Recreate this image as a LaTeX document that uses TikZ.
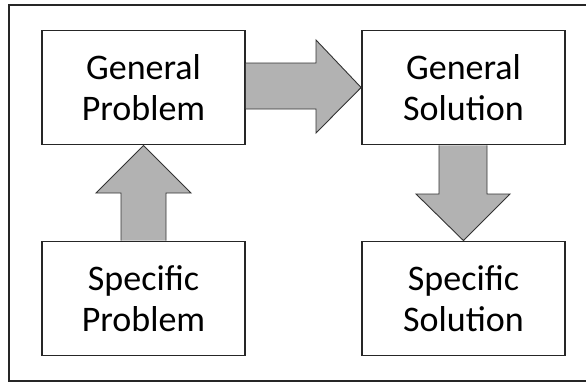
\documentclass[tikz,border=0pt]{standalone}
\usepackage{fontspec}
\setmainfont{Carlito}
\begin{document}
\begin{tikzpicture}[x=1pt,y=-1pt,
  box/.style={draw=black!85,line width=1.8pt,fill=white,minimum width=203pt,minimum height=114pt,inner sep=0pt,align=center,font=\fontsize{36}{41}\selectfont},
  bigarrow/.style={draw=black!80,line width=0.9pt,fill=black!30,line join=miter}]
\useasboundingbox (0,0) rectangle (586,384);
\path[clip] (0,0) rectangle (586,384);
\draw[line width=2pt,draw=black!85] (9,5) rectangle (600,381);
\node[box] (gp) at (143.5,87.5) {General\\Problem};
\node[box] (gs) at (463.5,87.5) {General\\Solution};
\node[box] (sp) at (143.5,298.5) {Specific\\Problem};
\node[box] (ss) at (463.5,298.5) {Specific\\Solution};
% right arrow
\draw[bigarrow] (gp.east |- 0,63) -- (316,63) -- (316,40) -- (gs.west) -- (316,133) -- (316,109) -- (gp.east |- 0,109) ;
% up arrow
\draw[bigarrow] (121,0 |- sp.north) -- (121,193) -- (96,193) -- (gp.south) -- (191,193) -- (166,193) -- (166,0 |- sp.north);
% down arrow
\draw[bigarrow] (439,0 |- gs.south) -- (439,194) -- (416,194) -- (ss.north) -- (510,194) -- (487,194) -- (487,0 |- gs.south);
\end{tikzpicture}
\end{document}
